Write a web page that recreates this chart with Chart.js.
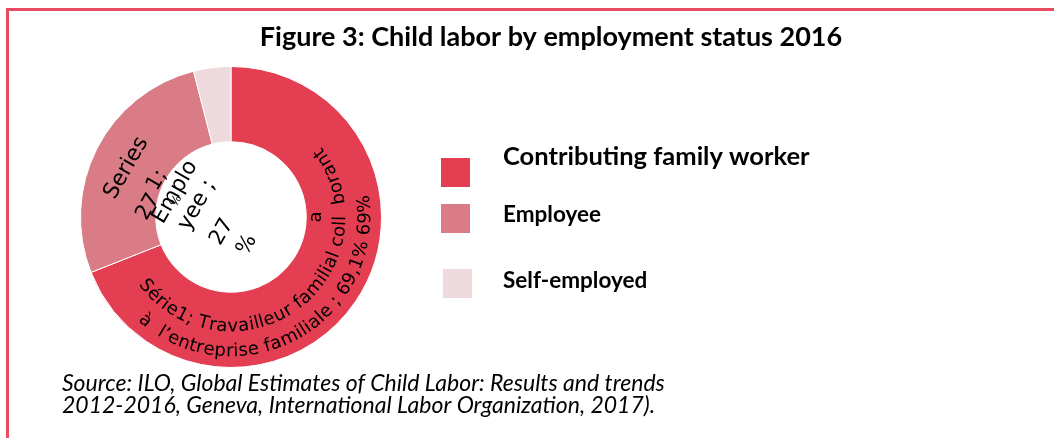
<!DOCTYPE html>
<html>
<head>
<meta charset="utf-8">
<script src="https://cdn.jsdelivr.net/npm/chart.js@4.4.1/dist/chart.umd.min.js"></script>
<style>
  html, body { margin: 0; padding: 0; background: #fff; }
  #wrap { position: relative; width: 1054px; height: 438px; }
</style>
</head>
<body>
<div id="wrap"><canvas id="statusChart"></canvas></div>
<script>
// Child labour by employment status, 2016 (shares in %)
const categories = ['Contributing family worker', 'Employee', 'Self-employed'];
const shares = [69, 27, 4];
const sliceColors = ['#e43e52', '#d97c85', '#eed9dc'];

const titleText = 'Figure 3: Child labor by employment status 2016';
const sourceLines = [
  'Source: ILO, Global Estimates of Child Labor: Results and trends',
  '2012-2016, Geneva, International Labor Organization, 2017).'
];

// data labels as they came out of the spreadsheet export
const familyLabelLines = [
  'Série1; Travailleur familial coll  borant',
  'à  l\u2019entreprise familiale ; 69,1% ' + shares[0] + '%'
];
const employeeLabelParts = ['Series', '1;', String(shares[1]), '%', 'Emplo', 'yee ;', String(shares[1]), '%'];

// layout of the curved label lines: baseline radius (share of outer radius), start angle (deg)
const familyLineRadius = [0.76, 0.925];
const familyLineStart = [144, 132];
// employee label pieces: offset from the centre in outer radii, font size
const employeeOffsets = [[-0.695, -0.325], [-0.49, -0.245], [-0.55, -0.066], [-0.364, -0.106],
                         [-0.37, -0.165], [-0.225, -0.08], [-0.06, 0.1], [0.106, 0.185]];
const employeeSizes = [22, 21, 21, 12, 22, 22, 21, 21];

// legend placement
const legendBoxes = [[441, 158], [441, 204], [443, 269]];
const legendBaselines = [165, 222, 288];
const legendFontSizes = [25.5, 22.5, 22.5];

const LABEL_FONT = '"DejaVu Sans", sans-serif';
const TEXT_FONT = 'Lato, "Open Sans", sans-serif';

// write text along a circle, reading counter-clockwise with letter tops toward the centre
function arcText(ctx, text, cx, cy, r, startDeg) {
  let a = startDeg * Math.PI / 180;
  for (const ch of text) {
    const w = ctx.measureText(ch).width;
    const step = w / (r - 6);
    const mid = a - step / 2;
    ctx.save();
    ctx.translate(cx + r * Math.cos(mid), cy + r * Math.sin(mid));
    ctx.rotate(mid - Math.PI / 2);
    ctx.fillText(ch, 0, 0);
    ctx.restore();
    a -= step;
  }
}

const figurePlugin = {
  id: 'figureDecor',
  beforeDraw(chart) {
    const ctx = chart.ctx;
    ctx.save();
    ctx.fillStyle = '#e84a5f';
    ctx.fillRect(6, 8, chart.width - 6, 3);
    ctx.fillRect(6, 8, 3, chart.height - 8);
    ctx.restore();
  },
  afterDraw(chart) {
    const ctx = chart.ctx;
    const arc = chart.getDatasetMeta(0).data[0];
    const cx = arc.x, cy = arc.y, R = arc.outerRadius;

    ctx.save();
    ctx.fillStyle = '#000';

    // title
    ctx.font = 'bold 27px ' + TEXT_FONT;
    ctx.textAlign = 'center';
    ctx.textBaseline = 'alphabetic';
    ctx.fillText(titleText, 551, 46);

    // legend
    ctx.textAlign = 'left';
    categories.forEach((name, i) => {
      ctx.fillStyle = sliceColors[i];
      ctx.fillRect(legendBoxes[i][0], legendBoxes[i][1], 29, 29);
      ctx.fillStyle = '#000';
      ctx.font = 'bold ' + legendFontSizes[i] + 'px ' + TEXT_FONT;
      ctx.fillText(name, 503, legendBaselines[i]);
    });

    // source note
    ctx.font = 'italic 23px ' + TEXT_FONT;
    sourceLines.forEach((line, i) => ctx.fillText(line, 62, 391 + i * 22));

    // slice labels
    ctx.font = '18px ' + LABEL_FONT;
    ctx.textAlign = 'center';
    familyLabelLines.forEach((line, i) => {
      arcText(ctx, line, cx, cy, R * familyLineRadius[i], familyLineStart[i]);
    });
    // stray wrapped letter of "collaborant"
    ctx.save();
    ctx.translate(cx + R * 0.6, cy);
    ctx.rotate(-Math.PI / 2);
    ctx.fillText('a', 0, 0);
    ctx.restore();

    ctx.textBaseline = 'middle';
    employeeLabelParts.forEach((part, i) => {
      ctx.save();
      ctx.font = employeeSizes[i] + 'px ' + LABEL_FONT;
      ctx.translate(cx + R * employeeOffsets[i][0], cy + R * employeeOffsets[i][1]);
      ctx.rotate(-60 * Math.PI / 180);
      ctx.fillText(part, 0, 0);
      ctx.restore();
    });
    ctx.restore();
  }
};

new Chart(document.getElementById('statusChart'), {
  type: 'doughnut',
  data: {
    labels: categories,
    datasets: [{
      data: shares,
      backgroundColor: sliceColors,
      borderColor: '#ffffff',
      borderWidth: 1
    }]
  },
  options: {
    responsive: true,
    maintainAspectRatio: false,
    animation: false,
    cutout: '50%',
    layout: { padding: { left: 80, top: 66, right: 672, bottom: 70 } },
    plugins: {
      legend: { display: false },
      tooltip: { enabled: false }
    }
  },
  plugins: [figurePlugin]
});
</script>
</body>
</html>
